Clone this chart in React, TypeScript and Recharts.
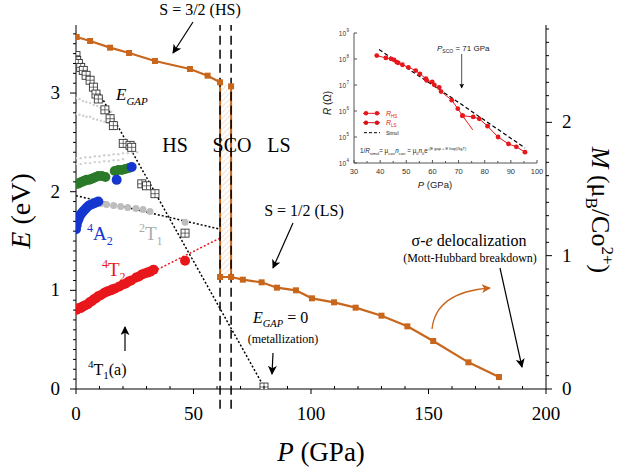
import React from "react";
import {
  ComposedChart,
  Line,
  Scatter,
  XAxis,
  YAxis,
  ReferenceLine,
  ReferenceArea,
} from "recharts";

const SERIF = "'Liberation Serif', 'Times New Roman', serif";
const SANS = "'Liberation Sans', Arial, sans-serif";
const ORANGE = "#c8661c";
const RED = "#e8171b";
const BLUE = "#1537d0";
const GREEN = "#2a7a2a";
const GRAY = "#bdbdbd";
const LIGHT = "#d0d0d0";

// magnetic moment, HS and LS branches (P in GPa, M in muB/Co2+)
const hsP = [0.3, 6, 14.5, 22.6, 33.6, 48.5, 56, 61.3];
const hsM = [2.64, 2.61, 2.56, 2.52, 2.46, 2.4, 2.35, 2.3];
const hsEndP = [66];
const hsEndM = [2.27];
const lsP = [61.3, 66, 71, 79, 85.5, 93.6, 100.4, 109.8, 119, 130, 141, 152, 167, 180];
const lsM = [0.84, 0.84, 0.82, 0.8, 0.76, 0.74, 0.68, 0.65, 0.61, 0.55, 0.47, 0.36, 0.2, 0.09];
const scoLeftP = [61.3, 61.3];
const scoLeftM = [2.3, 0.84];
const scoRightP = [66, 66];
const scoRightM = [2.27, 0.84];

// optical gap
const gapP = [0, 0.3, 1, 2, 3.1, 4.3, 6, 7.4, 8.5, 9.5, 12.3, 14.5, 15.9, 20.1, 23, 23.7, 28, 30, 33.6, 46.4, 80];
const gapE = [3.38, 3.33, 3.3, 3.26, 3.23, 3.18, 3.13, 3.06, 2.99, 2.94, 2.83, 2.74, 2.67, 2.49, 2.47, 2.45, 2.08, 2.06, 1.98, 1.58, 0.02];
const gapFitP = [0, 80];
const gapFitE = [3.42, 0.02];

// crystal field transitions
const t2P = [0, 0.6, 1.2, 1.9, 2.5, 3.2, 4, 5, 5.8, 6.7, 7.6, 8.5, 9.4, 10.5, 11.8, 12.6, 13.5, 14.8, 15.6, 16.7, 18.5, 20, 21.2, 22.4, 23.5, 25.6, 26.8, 28, 29.2, 30.4, 31.6, 33, 46.4];
const t2E = [0.8, 0.81, 0.82, 0.82, 0.83, 0.84, 0.85, 0.86, 0.88, 0.89, 0.91, 0.92, 0.94, 0.95, 0.97, 0.98, 0.99, 1.0, 1.01, 1.02, 1.04, 1.06, 1.07, 1.09, 1.1, 1.13, 1.14, 1.16, 1.17, 1.18, 1.19, 1.21, 1.3];
const t2FitP = [27, 61.3];
const t2FitE = [1.12, 1.53];
const a2P = [0, 0.3, 0.7, 1.2, 1.7, 2.3, 3, 3.8, 4.6, 5.5, 6.5, 7.5, 8.5, 9.5, 17.3, 23.7];
const a2E = [1.62, 1.66, 1.7, 1.73, 1.76, 1.78, 1.8, 1.82, 1.84, 1.86, 1.87, 1.88, 1.89, 1.9, 2.12, 2.25];
const greenP = [0, 0.8, 1.6, 2.5, 3.5, 4.5, 5.5, 6.5, 7.5, 8.5, 9.5, 11, 12.5, 16.5, 18, 19.5, 21, 22.5];
const greenE = [2.08, 2.08, 2.09, 2.1, 2.11, 2.12, 2.12, 2.13, 2.14, 2.15, 2.16, 2.16, 2.15, 2.21, 2.22, 2.22, 2.23, 2.24];
const t1P = [10.5, 13, 16, 19, 22, 25.5, 28.5, 31.5, 46.4];
const t1E = [1.88, 1.87, 1.86, 1.85, 1.84, 1.83, 1.82, 1.8, 1.69];
const t1FitP = [0, 61.3];
const t1FitE = [1.96, 1.62];
const faintAP = [0, 1.5, 3, 4.4, 6, 7.6, 9, 10.4, 12, 13.5, 15];
const faintAE = [2.95, 2.94, 2.92, 2.91, 2.9, 2.88, 2.87, 2.85, 2.84, 2.83, 2.81];
const faintBP = [0, 1.5, 3.1, 4.5, 6, 7.4, 9, 10.6, 12, 13.5, 15, 16.5];
const faintBE = [2.79, 2.78, 2.77, 2.76, 2.76, 2.74, 2.73, 2.72, 2.71, 2.7, 2.69, 2.67];
const faintCP = [0, 2, 4, 6, 8, 10, 12, 14, 16, 18, 20, 22, 24, 26];
const faintCE = [2.34, 2.34, 2.35, 2.35, 2.36, 2.36, 2.37, 2.37, 2.38, 2.38, 2.39, 2.39, 2.4, 2.4];
const faintDP = [0, 2, 4, 6, 8, 10, 12, 14, 16, 18, 20];
const faintDE = [2.28, 2.28, 2.29, 2.29, 2.3, 2.3, 2.31, 2.31, 2.32, 2.32, 2.33];

// inset: resistance (Ohm) vs P
const rhsP = [38.7, 42.2, 44.2, 45.3, 46.3, 46.9, 48.5, 50.8, 53.6, 55.2, 57.5, 57.8, 59.9, 60.7, 62.6, 63.3, 67.4, 69.7, 71.5];
const rhsR = [1.35e8, 1.1e8, 1.02e8, 9.3e7, 7.6e7, 7.1e7, 6.0e7, 4.8e7, 3.6e7, 2.7e7, 1.74e7, 1.5e7, 1.32e7, 1.02e7, 8.1e6, 5.6e6, 2.6e6, 1.23e6, 6.6e5];
const rhsTailP = [71.5, 75.4];
const rhsTailR = [6.6e5, 1.9e5];
const rlsP = [71.5, 75.6, 77.9, 81.1, 85.1, 89.1, 92.1, 95.4];
const rlsR = [6.6e5, 5.9e5, 5.0e5, 2.6e5, 1.0e5, 5.4e4, 4.2e4, 2.6e4];
const simP = [39.6, 66.7, 95.4];
const simR = [2.3e8, 3.6e6, 3.8e4];

const xTicks = Array.from({ length: 21 }, (_, i) => i * 10);
const eTicks = Array.from({ length: 37 }, (_, i) => i / 10);
const mTicks = Array.from({ length: 28 }, (_, i) => i / 10);
const insetXTicks = Array.from({ length: 15 }, (_, i) => 30 + i * 5);
const insetYTicks = [1e4, 1e5, 1e6, 1e7, 1e8, 1e9];

const zip = (ps: number[], vs: number[], key: string) =>
  ps.map((p, i) => ({ p, [key]: vs[i] }));

const serif = { fontFamily: SERIF };
const sans = { fontFamily: SANS };

const BottomTick = (props: any) => {
  const { x, y, payload } = props;
  const v = payload.value;
  const major = v % 50 === 0;
  return (
    <g>
      <line x1={x} x2={x} y1={y} y2={major ? y + 5 : y - 3} stroke="#000" />
      {major && (
        <text x={x} y={y + 31} textAnchor="middle" fontSize={19} style={serif} fill="#000">
          {v}
        </text>
      )}
    </g>
  );
};

const TopTick = (props: any) => {
  const { x, y } = props;
  return <line x1={x} x2={x} y1={y} y2={y - 3} stroke="#000" />;
};

const LeftTick = (props: any) => {
  const { x, y, payload } = props;
  const major = Number.isInteger(payload.value);
  return (
    <g>
      <line x1={x} x2={x - (major ? 6 : 3)} y1={y} y2={y} stroke="#000" />
      {major && (
        <text x={x - 16} y={y + 6} textAnchor="end" fontSize={19} style={serif} fill="#000">
          {payload.value}
        </text>
      )}
    </g>
  );
};

const RightTick = (props: any) => {
  const { x, y, payload } = props;
  const major = Number.isInteger(payload.value);
  return (
    <g>
      <line x1={x} x2={x + (major ? 6 : 3)} y1={y} y2={y} stroke="#000" />
      {major && (
        <text x={x + 16} y={y + 6} textAnchor="start" fontSize={19} style={serif} fill="#000">
          {payload.value}
        </text>
      )}
    </g>
  );
};

const InsetBottomTick = (props: any) => {
  const { x, y, payload } = props;
  const major = payload.value % 10 === 0;
  return (
    <g>
      <line x1={x} x2={x} y1={y} y2={y - (major ? 3 : 2)} stroke="#555" />
      {major && (
        <text x={x} y={y + 11} textAnchor="middle" fontSize={7.5} style={sans} fill="#333">
          {payload.value}
        </text>
      )}
    </g>
  );
};

const InsetTopTick = (props: any) => {
  const { x, y } = props;
  return <line x1={x} x2={x} y1={y} y2={y + 2} stroke="#555" />;
};

const InsetLeftTick = (props: any) => {
  const { x, y, payload } = props;
  const exp = Math.round(Math.log10(payload.value));
  return (
    <g>
      <line x1={x} x2={x + 3} y1={y} y2={y} stroke="#555" />
      <text x={x - 8} y={y + 2.5} textAnchor="end" fontSize={6.5} style={sans} fill="#333">
        10
      </text>
      <text x={x - 7.5} y={y - 1} textAnchor="start" fontSize={4.5} style={sans} fill="#333">
        {exp}
      </text>
    </g>
  );
};

const InsetRightTick = (props: any) => {
  const { x, y } = props;
  return <line x1={x} x2={x - 3} y1={y} y2={y} stroke="#555" />;
};

const orangeSquare = (props: any) => {
  const { cx, cy, index } = props;
  if (cx == null || cy == null) return <g key={index} />;
  return <rect key={index} x={cx - 3} y={cy - 3} width={6} height={6} fill={ORANGE} />;
};

const gapSquare = (props: any) => {
  const { cx, cy } = props;
  return (
    <g>
      <rect x={cx - 4} y={cy - 4} width={8} height={8} fill="#fff" stroke="#333" strokeWidth={0.9} />
      <line x1={cx - 4} x2={cx + 4} y1={cy} y2={cy} stroke="#333" strokeWidth={0.7} />
      <line x1={cx} x2={cx} y1={cy - 4} y2={cy + 4} stroke="#333" strokeWidth={0.7} />
    </g>
  );
};

const circle = (color: string, r: number) => (props: any) =>
  <circle cx={props.cx} cy={props.cy} r={r} fill={color} />;

const redDot = (props: any) => {
  const { cx, cy, index } = props;
  if (cx == null || cy == null) return <g key={index} />;
  return <circle key={index} cx={cx} cy={cy} r={2.4} fill={RED} />;
};

const App: React.FC = () => (
  <div style={{ position: "absolute", left: 0, top: 0, width: 625, height: 468, background: "#fff" }}>
    <svg width={0} height={0} style={{ position: "absolute" }}>
      <defs>
        <pattern id="hatch" width="4" height="4" patternUnits="userSpaceOnUse" patternTransform="rotate(45)">
          <rect x="0" y="0" width="4" height="4" fill="#fff" />
          <line x1="0" y1="0" x2="0" y2="4" stroke="#eab48c" strokeWidth="0.8" />
        </pattern>
      </defs>
    </svg>
    <ComposedChart width={625} height={468} margin={{ top: 25, right: 0, bottom: 0, left: 0 }}>
      <XAxis
        type="number"
        dataKey="p"
        domain={[0, 200]}
        ticks={xTicks}
        interval={0}
        tickSize={0}
        tickMargin={0}
        tickLine={false}
        tick={BottomTick}
        height={79}
        axisLine={{ stroke: "#000" }}
        allowDataOverflow
      />
      <XAxis
        xAxisId="top"
        orientation="top"
        type="number"
        dataKey="p"
        domain={[0, 200]}
        ticks={xTicks}
        interval={0}
        tickSize={0}
        tickMargin={0}
        tickLine={false}
        tick={TopTick}
        height={0}
        axisLine={{ stroke: "#000" }}
        allowDataOverflow
      />
      <YAxis
        yAxisId="E"
        type="number"
        domain={[0, 3.69]}
        ticks={eTicks}
        interval={0}
        tickSize={0}
        tickMargin={0}
        tickLine={false}
        tick={LeftTick}
        width={76}
        axisLine={{ stroke: "#000" }}
        allowDataOverflow
      />
      <YAxis
        yAxisId="M"
        orientation="right"
        type="number"
        domain={[0, 2.73]}
        ticks={mTicks}
        interval={0}
        tickSize={0}
        tickMargin={0}
        tickLine={false}
        tick={RightTick}
        width={79}
        axisLine={{ stroke: "#000" }}
        allowDataOverflow
      />

      <ReferenceArea
        yAxisId="M"
        x1={61.3}
        x2={66}
        y1={0.84}
        y2={2.28}
        fill="url(#hatch)"
        fillOpacity={1}
        stroke="none"
      />

      <Scatter yAxisId="E" data={zip(faintAP, faintAE, "e")} dataKey="e" shape={circle(LIGHT, 1.2)} isAnimationActive={false} />
      <Scatter yAxisId="E" data={zip(faintBP, faintBE, "e")} dataKey="e" shape={circle(LIGHT, 1.2)} isAnimationActive={false} />
      <Scatter yAxisId="E" data={zip(faintCP, faintCE, "e")} dataKey="e" shape={circle(LIGHT, 1.2)} isAnimationActive={false} />
      <Scatter yAxisId="E" data={zip(faintDP, faintDE, "e")} dataKey="e" shape={circle(LIGHT, 1.2)} isAnimationActive={false} />

      <Line yAxisId="E" data={zip(gapFitP, gapFitE, "e")} dataKey="e" stroke="#000" strokeWidth={1.5} strokeDasharray="2 2" dot={false} isAnimationActive={false} />
      <Line yAxisId="E" data={zip(t1FitP, t1FitE, "e")} dataKey="e" stroke="#000" strokeWidth={1.5} strokeDasharray="2 2" dot={false} isAnimationActive={false} />
      <Line yAxisId="E" data={zip(t2FitP, t2FitE, "e")} dataKey="e" stroke={RED} strokeWidth={1.5} strokeDasharray="2 2" dot={false} isAnimationActive={false} />

      <Scatter yAxisId="E" data={zip(t1P, t1E, "e")} dataKey="e" shape={circle(GRAY, 3.5)} isAnimationActive={false} />
      <Scatter yAxisId="E" data={zip(greenP, greenE, "e")} dataKey="e" shape={circle(GREEN, 5)} isAnimationActive={false} />
      <Scatter yAxisId="E" data={zip(a2P, a2E, "e")} dataKey="e" shape={circle(BLUE, 5)} isAnimationActive={false} />
      <Scatter yAxisId="E" data={zip(t2P, t2E, "e")} dataKey="e" shape={circle(RED, 5)} isAnimationActive={false} />
      <Scatter yAxisId="E" data={zip(gapP, gapE, "e")} dataKey="e" shape={gapSquare} isAnimationActive={false} />

      <Line yAxisId="M" data={zip(scoLeftP, scoLeftM, "m")} dataKey="m" stroke={ORANGE} strokeWidth={2} dot={false} isAnimationActive={false} />
      <Line yAxisId="M" data={zip(scoRightP, scoRightM, "m")} dataKey="m" stroke={ORANGE} strokeWidth={2} dot={false} isAnimationActive={false} />
      <Line yAxisId="M" data={zip(hsP, hsM, "m")} dataKey="m" stroke={ORANGE} strokeWidth={2.2} dot={orangeSquare} isAnimationActive={false} />
      <Line yAxisId="M" data={zip(hsEndP, hsEndM, "m")} dataKey="m" stroke={ORANGE} strokeWidth={2.2} dot={orangeSquare} isAnimationActive={false} />
      <Line yAxisId="M" data={zip(lsP, lsM, "m")} dataKey="m" stroke={ORANGE} strokeWidth={2.2} dot={orangeSquare} isAnimationActive={false} />

      <ReferenceLine
        yAxisId="E"
        segment={[{ x: 61.3, y: -0.2 }, { x: 61.3, y: 3.69 }]}
        stroke="#000"
        strokeWidth={1.5}
        strokeDasharray="9 5"
        ifOverflow="visible"
      />
      <ReferenceLine
        yAxisId="E"
        segment={[{ x: 66, y: -0.2 }, { x: 66, y: 3.69 }]}
        stroke="#000"
        strokeWidth={1.5}
        strokeDasharray="9 5"
        ifOverflow="visible"
      />
    </ComposedChart>

    <div style={{ position: "absolute", left: 300, top: 25 }}>
      <ComposedChart width={245} height={172} margin={{ top: 8, right: 8, bottom: 0, left: 0 }}>
        <XAxis
          type="number"
          dataKey="p"
          domain={[30, 100]}
          ticks={insetXTicks}
          interval={0}
          tickSize={0}
          tickMargin={0}
          tickLine={false}
          tick={InsetBottomTick}
          height={34}
          axisLine={{ stroke: "#555" }}
          allowDataOverflow
        />
        <XAxis
          xAxisId="top"
          orientation="top"
          type="number"
          dataKey="p"
          domain={[30, 100]}
          ticks={insetXTicks}
          interval={0}
          tickSize={0}
          tickMargin={0}
          tickLine={false}
          tick={InsetTopTick}
          height={0}
          axisLine={{ stroke: "#555" }}
          allowDataOverflow
        />
        <YAxis
          type="number"
          scale="log"
          domain={[1e4, 1e9]}
          ticks={insetYTicks}
          interval={0}
          tickSize={0}
          tickMargin={0}
          tickLine={false}
          tick={InsetLeftTick}
          width={54}
          axisLine={{ stroke: "#555" }}
          allowDataOverflow
        />
        <YAxis
          yAxisId="r"
          orientation="right"
          type="number"
          scale="log"
          domain={[1e4, 1e9]}
          ticks={insetYTicks}
          interval={0}
          tickSize={0}
          tickMargin={0}
          tickLine={false}
          tick={InsetRightTick}
          width={0}
          axisLine={{ stroke: "#555" }}
          allowDataOverflow
        />
        <Line data={zip(simP, simR, "r")} dataKey="r" stroke="#000" strokeWidth={1.2} strokeDasharray="4 2.5" dot={false} isAnimationActive={false} />
        <Line data={zip(rhsTailP, rhsTailR, "r")} dataKey="r" stroke={RED} strokeWidth={1} dot={false} isAnimationActive={false} />
        <Line data={zip(rhsP, rhsR, "r")} dataKey="r" stroke={RED} strokeWidth={1} dot={redDot} isAnimationActive={false} />
        <Line data={zip(rlsP, rlsR, "r")} dataKey="r" stroke="#d41418" strokeWidth={1} dot={redDot} isAnimationActive={false} />
      </ComposedChart>
    </div>

    <svg
      width={625}
      height={468}
      style={{ position: "absolute", left: 0, top: 0, pointerEvents: "none", fontFamily: SERIF }}
    >
      <defs>
        <marker id="ak" viewBox="0 0 10 10" refX="9" refY="5" markerWidth="9" markerHeight="9" markerUnits="userSpaceOnUse" orient="auto">
          <path d="M0,0 L10,5 L0,10 L2.5,5 z" fill="#000" />
        </marker>
        <marker id="ao" viewBox="0 0 10 10" refX="9" refY="5" markerWidth="9" markerHeight="9" markerUnits="userSpaceOnUse" orient="auto">
          <path d="M0,0 L10,5 L0,10 L2.5,5 z" fill={ORANGE} />
        </marker>
        <marker id="as" viewBox="0 0 10 10" refX="9" refY="5" markerWidth="5" markerHeight="5" markerUnits="userSpaceOnUse" orient="auto">
          <path d="M0,0 L10,5 L0,10 L2.5,5 z" fill="#000" />
        </marker>
      </defs>

      {/* main annotations */}
      <text x={200} y={15} textAnchor="middle" fontSize={16}>S = 3/2 (HS)</text>
      <line x1={193} y1={22} x2={173} y2={53} stroke="#000" strokeWidth={1.2} markerEnd="url(#ak)" />

      <text x={116} y={100} fontSize={17} fontStyle="italic">
        E<tspan dy={5} fontSize={11}>GAP</tspan>
      </text>

      <text x={175} y={152} textAnchor="middle" fontSize={20}>HS</text>
      <text x={232} y={152} textAnchor="middle" fontSize={20}>SCO</text>
      <text x={279} y={152} textAnchor="middle" fontSize={20}>LS</text>

      <text x={87} y={240} fontSize={19} fill={BLUE}>
        <tspan dy={-8} fontSize={12}>4</tspan>
        <tspan dy={8}>A</tspan>
        <tspan dy={5} fontSize={12}>2</tspan>
      </text>
      <text x={139} y={240} fontSize={19} fill="#aaa">
        <tspan dy={-8} fontSize={12}>2</tspan>
        <tspan dy={8}>T</tspan>
        <tspan dy={5} fontSize={12}>1</tspan>
      </text>
      <text x={102} y={276} fontSize={19} fill={RED}>
        <tspan dy={-8} fontSize={12}>4</tspan>
        <tspan dy={8}>T</tspan>
        <tspan dy={5} fontSize={12}>2</tspan>
      </text>

      <line x1={125} y1={351} x2={125} y2={327} stroke="#000" strokeWidth={1.2} markerEnd="url(#ak)" />
      <text x={88} y={375} fontSize={16}>
        <tspan dy={-7} fontSize={11}>4</tspan>
        <tspan dy={7}>T</tspan>
        <tspan dy={4} fontSize={11}>1</tspan>
        <tspan dy={-4}>(a)</tspan>
      </text>

      <text x={304} y={216} textAnchor="middle" fontSize={16}>S = 1/2 (LS)</text>
      <line x1={293} y1={223} x2={273} y2={268} stroke="#000" strokeWidth={1.2} markerEnd="url(#ak)" />

      <text x={253} y={323} fontSize={16}>
        <tspan fontStyle="italic">E</tspan>
        <tspan dy={4} fontSize={10.5} fontStyle="italic">GAP</tspan>
        <tspan dy={-4}> = 0</tspan>
      </text>
      <text x={283} y={343} textAnchor="middle" fontSize={12}>(metallization)</text>
      <line x1={273} y1={353} x2={272} y2={374} stroke="#000" strokeWidth={1.2} markerEnd="url(#ak)" />

      <text x={469} y={246} textAnchor="middle" fontSize={16}>
        σ-<tspan fontStyle="italic">e</tspan> delocalization
      </text>
      <text x={470} y={262} textAnchor="middle" fontSize={12}>(Mott-Hubbard breakdown)</text>
      <line x1={500} y1={268} x2={522} y2={367} stroke="#000" strokeWidth={1.2} markerEnd="url(#ak)" />
      <path d="M432,329 Q436,292 490,288" fill="none" stroke={ORANGE} strokeWidth={1.3} markerEnd="url(#ao)" />

      {/* axis titles */}
      <text transform="translate(30,211) rotate(-90)" textAnchor="middle" fontSize={28}>
        <tspan fontStyle="italic">E</tspan> (eV)
      </text>
      <text transform="translate(592,210) rotate(90)" textAnchor="middle" fontSize={26}>
        <tspan fontStyle="italic">M</tspan> (μ<tspan dy={6} fontSize={17}>B</tspan>
        <tspan dy={-6}>/Co</tspan>
        <tspan dy={-10} fontSize={17}>2+</tspan>
        <tspan dy={10}>)</tspan>
      </text>
      <text x={321} y={461} textAnchor="middle" fontSize={27}>
        <tspan fontStyle="italic">P</tspan> (GPa)
      </text>

      {/* inset annotations */}
      <g style={sans} fill="#222">
        <text x={437} y={51} fontSize={8}>
          <tspan fontStyle="italic">P</tspan>
          <tspan dy={2} fontSize={5}>SCO</tspan>
          <tspan dy={-2}> = 71 GPa</tspan>
        </text>
        <line x1={461.7} y1={54} x2={461.7} y2={88} stroke="#222" strokeWidth={0.8} markerEnd="url(#as)" />

        <line x1={363} x2={380} y1={113.3} y2={113.3} stroke={RED} strokeWidth={1} />
        <circle cx={366} cy={113.3} r={2.2} fill={RED} />
        <circle cx={377} cy={113.3} r={2.2} fill={RED} />
        <text x={386} y={116} fontSize={7} fill={RED} fontStyle="italic">
          R<tspan dy={1.5} fontSize={4.5} fontStyle="normal">HS</tspan>
        </text>
        <line x1={363} x2={380} y1={122.7} y2={122.7} stroke="#d41418" strokeWidth={1} />
        <circle cx={366} cy={122.7} r={2.2} fill="#d41418" />
        <circle cx={377} cy={122.7} r={2.2} fill="#d41418" />
        <text x={386} y={125.4} fontSize={7} fill={RED} fontStyle="italic">
          R<tspan dy={1.5} fontSize={4.5} fontStyle="normal">LS</tspan>
        </text>
        <line x1={364} x2={380} y1={132.7} y2={132.7} stroke="#000" strokeWidth={1} strokeDasharray="3 2" />
        <text x={386} y={134.7} fontSize={5}>Simul</text>

        <text x={360} y={153} fontSize={6.3}>
          1/<tspan fontStyle="italic">R</tspan>
          <tspan dy={1.5} fontSize={4}>simul</tspan>
          <tspan dy={-1.5}>= μ</tspan>
          <tspan dy={1.5} fontSize={4}>carr</tspan>
          <tspan dy={-1.5} fontStyle="italic">n</tspan>
          <tspan dy={1.5} fontSize={4}>carr</tspan>
          <tspan dy={-1.5}> = μ</tspan>
          <tspan dy={1.5} fontSize={4}>0</tspan>
          <tspan dy={-1.5} fontStyle="italic">n</tspan>
          <tspan dy={1.5} fontSize={4}>0</tspan>
          <tspan dy={-1.5}>e</tspan>
          <tspan dy={-3} fontSize={4}>-(E gap + E hop)/k</tspan>
          <tspan dy={1} fontSize={3}>B</tspan>
          <tspan dy={-1} fontSize={4}>T)</tspan>
        </text>

        <text transform="translate(331,103) rotate(-90)" textAnchor="middle" fontSize={10}>
          <tspan fontStyle="italic">R</tspan> (Ω)
        </text>
        <text x={435} y={188} textAnchor="middle" fontSize={9.5}>
          <tspan fontStyle="italic">P</tspan> (GPa)
        </text>
      </g>
    </svg>
  </div>
);

export default App;
